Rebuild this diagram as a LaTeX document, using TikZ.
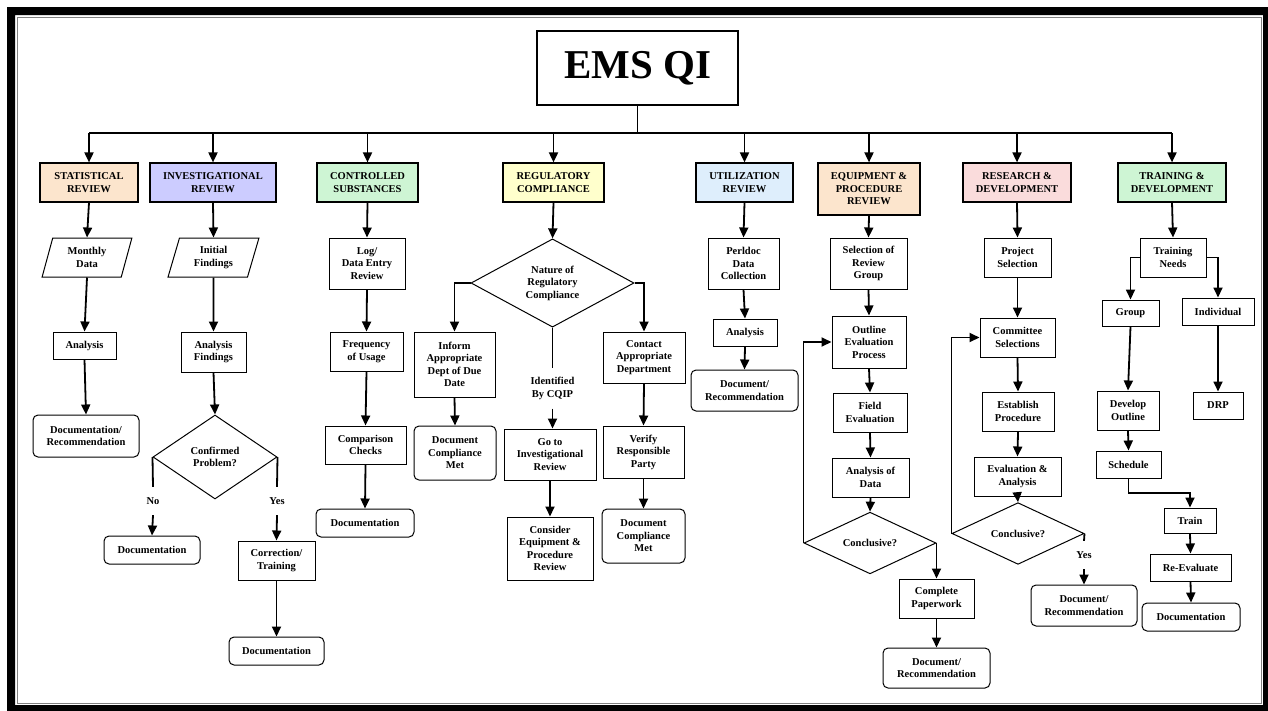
\documentclass[tikz,border=0pt]{standalone}
\usepackage{fontspec}
\setmainfont{Liberation Serif}
\usetikzlibrary{arrows.meta,shapes.geometric,calc}
\definecolor{cpeach}{RGB}{252,229,205}
\definecolor{clav}{RGB}{204,204,255}
\definecolor{cgreen}{RGB}{206,245,212}
\definecolor{cyellow}{RGB}{255,255,204}
\definecolor{cblue}{RGB}{222,238,252}
\definecolor{cpink}{RGB}{250,220,220}
\tikzset{
  base/.style={draw, line width=1pt, fill=white, align=center, inner sep=1pt,
    font=\bfseries\fontsize{10.5}{12.5}\selectfont},
  wh/.style 2 args={minimum width=#1pt, minimum height=#2pt},
  hdr/.style={base, line width=1.2pt},
  rbox/.style={base, rounded corners=5pt},
  para/.style={base, trapezium, trapezium left angle=74, trapezium right angle=106, trapezium stretches=true},
  dia/.style={base, diamond, inner sep=0pt},
  lbl/.style={align=center, inner sep=0pt, font=\bfseries\fontsize{10.5}{12.5}\selectfont},
  conn/.style={line width=1.8pt},
  arr/.style={conn, -{Triangle[length=10pt,width=9pt]}},
}
\begin{document}
\begin{tikzpicture}[x=1pt,y=-1pt]
\useasboundingbox (0,0) rectangle (1268,710);
\clip (0,0) rectangle (1268,710);
\fill[white] (0,0) rectangle (1268,710);
\fill[black, even odd rule] (7,7) rectangle (1275,717) (15,15) rectangle (1263,705);
\draw[gray, line width=1pt] (17.5,17.5) rectangle (1261,703);

% title
\node[base, line width=1.8pt, wh={201}{74}, font=\bfseries\fontsize{41}{48}\selectfont] (title) at (637.5,68) {EMS QI};
\coordinate (bus) at (637.5,133);

% headers
\node[hdr, fill=cpeach, wh={98}{39}] (h1) at (89,182.5) {STATISTICAL\\REVIEW};
\node[hdr, fill=clav, wh={126}{39}] (h2) at (213,182.5) {INVESTIGATIONAL\\REVIEW};
\node[hdr, fill=cgreen, wh={101}{39}] (h3) at (367.5,182.5) {CONTROLLED\\SUBSTANCES};
\node[hdr, fill=cyellow, wh={101}{39}] (h4) at (553.5,182.5) {REGULATORY\\COMPLIANCE};
\node[hdr, fill=cblue, wh={97}{39}] (h5) at (744.5,182.5) {UTILIZATION\\REVIEW};
\node[hdr, fill=cpeach, wh={102}{52}] (h6) at (869,189) {EQUIPMENT \&\\PROCEDURE\\REVIEW};
\node[hdr, fill=cpink, wh={108}{39}] (h7) at (1017,182.5) {RESEARCH \&\\DEVELOPMENT};
\node[hdr, fill=cgreen, wh={108}{39}] (h8) at (1172,182.5) {TRAINING \&\\DEVELOPMENT};

% column 1
\node[para, wh={90}{39}] (md) at (87,257.5) {Monthly\\Data};
\node[base, wh={63}{27}] (an1) at (84.5,345.5) {Analysis};
\node[rbox, wh={106}{42}] (doc1) at (86,436) {Documentation/\\Recommendation};

% column 2
\node[para, wh={91}{39}] (inif) at (213.5,257.5) {Initial\\Findings};
\node[base, wh={65}{40}] (af) at (213.5,352) {Analysis\\Findings};
\node[dia, wh={124}{84}] (cp) at (215,457) {Confirmed\\Problem?};
\node[lbl, minimum height=28pt] (no) at (153,501) {No};
\node[rbox, wh={96}{28}] (doc2) at (152,550) {Documentation};
\node[lbl, minimum height=28pt] (yes2) at (277,501) {Yes};
\node[base, wh={77}{39}] (ct) at (276.5,560.5) {Correction/\\Training};
\node[rbox, wh={95}{28}] (doc3) at (276.5,651) {Documentation};

% column 3
\node[base, wh={76}{51}] (log) at (367,263.5) {Log/\\Data Entry\\Review};
\node[base, wh={73}{39}] (freq) at (366.5,351.5) {Frequency\\of Usage};
\node[base, wh={81}{38}] (comp) at (365.5,445) {Comparison\\Checks};
\node[rbox, wh={98}{28}] (doc4) at (365,523) {Documentation};

% column 4
\node[dia, wh={163}{88}] (nat) at (552.5,283) {Nature of\\Regulatory\\Compliance};
\node[base, wh={81}{65}] (inf) at (454.5,364.5) {Inform\\Appropriate\\Dept of Due\\Date};
\node[rbox, wh={82}{54}] (dcm1) at (455,453) {Document\\Compliance\\Met};
\node[lbl, minimum height=40pt] (idf) at (552.5,388.5) {Identified\\By CQIP};
\node[base, wh={92}{51}] (go) at (550,454.5) {Go to\\Investigational\\Review};
\node[base, wh={86}{63}] (cons) at (550,548.5) {Consider\\Equipment \&\\Procedure\\Review};
\node[base, wh={82}{51}] (con) at (644,357.5) {Contact\\Appropriate\\Department};
\node[base, wh={81}{52}] (ver) at (643.5,452) {Verify\\Responsible\\Party};
\node[rbox, wh={83}{54}] (dcm2) at (643.5,536) {Document\\Compliance\\Met};

% column 5
\node[base, wh={71}{51}] (perl) at (743.5,263.5) {Perldoc\\Data\\Collection};
\node[base, wh={64}{27}] (an5) at (745,332.5) {Analysis};
\node[rbox, wh={107}{41}] (doc5) at (744.5,390.5) {Document/\\Recommendation};

% column 6
\node[base, wh={77}{51}] (sel) at (868.5,263.5) {Selection of\\Review\\Group};
\node[base, wh={74}{52}] (out) at (869,342) {Outline\\Evaluation\\Process};
\node[base, wh={74}{39}] (fld) at (870,412.5) {Field\\Evaluation};
\node[base, wh={77}{39}] (aod) at (870.5,477.5) {Analysis of\\Data};
\node[dia, wh={132}{38}] (conc6) at (870,543) {Conclusive?};
\node[base, wh={75}{39}] (cpw) at (936.5,598.5) {Complete\\Paperwork};
\node[rbox, wh={107}{40}] (doc6) at (936.5,668) {Document/\\Recommendation};

% column 7
\node[base, wh={67}{39}] (ps) at (1017.5,257.5) {Project\\Selection};
\node[base, wh={75}{39}] (cs) at (1017.5,337.5) {Committee\\Selections};
\node[base, wh={72}{39}] (ep) at (1018,411.5) {Establish\\Procedure};
\node[base, wh={87}{39}] (ea) at (1017.5,476.5) {Evaluation \&\\Analysis};
\node[dia, wh={132}{39}] (conc7) at (1018,533.5) {Conclusive?};
\node[lbl, minimum height=28pt] (yes7) at (1084,555) {Yes};
\node[rbox, wh={106}{41}] (doc7) at (1084,605.5) {Document/\\Recommendation};

% column 8
\node[base, wh={66}{39}] (tn) at (1173,257.5) {Training\\Needs};
\node[base, wh={57}{26}] (grp) at (1130.5,313) {Group};
\node[base, wh={72}{27}] (ind) at (1218,311.5) {Individual};
\node[base, wh={62}{39}] (dvo) at (1128,410.5) {Develop\\Outline};
\node[base, wh={50}{27}] (drp) at (1218,405.5) {DRP};
\node[base, wh={65}{27}] (sch) at (1128.5,464.5) {Schedule};
\node[base, wh={52}{25}] (trn) at (1190,520.5) {Train};
\node[base, wh={81}{27}] (rev) at (1190.5,567.5) {Re-Evaluate};
\node[rbox, wh={98}{28}] (doc8) at (1191,617) {Documentation};

% trunk
\draw[conn] (title.south) -- (bus);
\draw[conn] (h1.north |- bus) -- (h8.north |- bus);
\foreach \h in {h1,h2,h3,h4,h5,h6,h7,h8}
  \draw[arr] (\h.north |- bus) -- (\h.north);

% column 1
\draw[arr] (h1.south) -- (md.north);
\draw[arr] (md.south) -- (an1.north);
\draw[arr] (an1.south) -- (doc1.north);

% column 2
\draw[arr] (h2.south) -- (inif.north);
\draw[arr] (inif.south) -- (af.north);
\draw[arr] (af.south) -- (cp.north);
\draw[conn] (cp.west) -- (no.north);
\draw[arr] (no.south) -- (doc2.north);
\draw[conn] (cp.east) -- (yes2.north);
\draw[arr] (yes2.south) -- (ct.north);
\draw[arr] (ct.south) -- (doc3.north);

% column 3
\draw[arr] (h3.south) -- (log.north);
\draw[arr] (log.south) -- (freq.north);
\draw[arr] (freq.south) -- (comp.north);
\draw[arr] (comp.south) -- (doc4.north);

% column 4
\draw[arr] (h4.south) -- (nat.north);
\draw[arr] (nat.west) -| (inf.north);
\draw[arr] (nat.east) -| (con.north);
\draw[conn] (nat.south) -- (idf.north);
\draw[arr] (idf.south) -- (idf.south |- go.north);
\draw[arr] (go.south) -- (cons.north);
\draw[arr] (inf.south) -- (dcm1.north);
\draw[arr] (con.south) -- (ver.north);
\draw[arr] (ver.south) -- (dcm2.north);

% column 5
\draw[arr] (h5.south) -- (perl.north);
\draw[arr] (perl.south) -- (an5.north);
\draw[arr] (an5.south) -- (doc5.north);

% column 6
\draw[arr] (h6.south) -- (sel.north);
\draw[arr] (sel.south) -- (out.north);
\draw[arr] (out.south) -- (fld.north);
\draw[arr] (fld.south) -- (aod.north);
\draw[arr] (aod.south) -- (conc6.north);
\draw[arr] (conc6.west) -- (conc6.west |- out.west) -- (out.west);
\draw[arr] (conc6.east) -| (cpw.north);
\draw[arr] (cpw.south) -- (doc6.north);

% column 7
\draw[arr] (h7.south) -- (ps.north);
\draw[arr] (ps.south) -- (cs.north);
\draw[arr] (cs.south) -- (ep.north);
\draw[arr] (ep.south) -- (ea.north);
\draw[arr] (ea.south) -- (conc7.north);
\draw[arr] (conc7.west) -- (conc7.west |- cs.west) -- (cs.west);
\draw[conn] (conc7.east) -- (yes7.north);
\draw[arr] (yes7.south) -- (doc7.north);

% column 8
\draw[arr] (h8.south) -- (tn.north);
\draw[arr] (tn.west) -| (grp.north);
\draw[arr] (tn.east) -| (ind.north);
\draw[arr] (grp.south) -- (dvo.north);
\draw[arr] (ind.south) -- (drp.north);
\draw[arr] (dvo.south) -- (sch.north);
\draw[arr] (sch.south) |- ($(sch.south)!.5!(trn.north)$) -| (trn.north);
\draw[arr] (trn.south) -- (rev.north);
\draw[arr] (rev.south) -- (doc8.north);
\end{tikzpicture}
\end{document}
